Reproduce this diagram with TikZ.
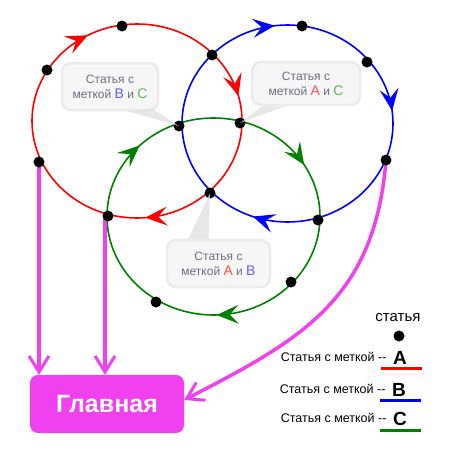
\documentclass[tikz,border=0pt]{standalone}
\usepackage{fontspec}
\setmainfont{Liberation Sans}
\usetikzlibrary{arrows.meta,decorations.markings}
\definecolor{mag}{RGB}{240,64,240}
\definecolor{txtgray}{RGB}{110,110,128}
\definecolor{tagA}{RGB}{255,80,80}
\definecolor{tagB}{RGB}{96,96,255}
\definecolor{tagC}{RGB}{96,184,96}
\definecolor{grn}{RGB}{0,128,0}
\newcommand{\tagl}[2]{\textcolor{#1}{\fontsize{14}{15}\selectfont #2}}

\begin{document}
\begin{tikzpicture}[x=1pt, y=-1pt,
    >={Stealth[length=22pt,width=19pt,inset=9pt]},
    dot/.style={circle, fill=black, inner sep=0pt, minimum size=11pt},
    ring/.style n args={3}{line width=1.6pt, postaction={decorate},
      decoration={markings,
        mark=at position #1 with {\arrow{>}},
        mark=at position #2 with {\arrow{>}},
        mark=at position #3 with {\arrow{>}}}},
    link/.style={draw=mag, line width=3.5pt, -{Straight Barb[length=16pt,width=20pt,line width=3pt]}},
    callout/.style={fill=gray!7, draw=gray!16, line width=2.5pt, rounded corners=9pt,
      align=center, text=txtgray, font=\fontsize{12}{15}\selectfont},
    pointer/.style={fill=gray!25, opacity=0.75},
    keytext/.style={anchor=east, font=\fontsize{12.5}{14}\selectfont},
    keytag/.style={font=\fontsize{19}{20}\selectfont\bfseries}]
  \useasboundingbox (0,0) rectangle (458,455);
  \draw [red, ring={0.237}{0.67}{0.96}] (137,121) ellipse [x radius=105, y radius=97];
  \draw [blue, ring={0.305}{0.73}{0.98}] (287.5,123.5) ellipse [x radius=105.5, y radius=98.5];
  \draw [grn, ring={0.245}{0.625}{0.915}] (213.5,216.5) ellipse [x radius=106.5, y radius=98.5];
  \node (main) [fill=mag, rounded corners=8pt, minimum width=154pt, minimum height=58pt,
    text=white, font=\fontsize{25}{28}\selectfont\bfseries] at (107,404) {Главная};
  \draw [link] (39,162) -- (39,162 |- main.north);
  \draw [link] (105,216) -- (105,216 |- main.north);
  \draw [link] (386,160) .. controls (375,300) and (300,340) .. ([yshift=4pt]main.east);
  \node[dot] (RT) at (122,26) {};
  \node[dot] (RUL) at (47,70) {};
  \node[dot] (RL) at (39,162) {};
  \node[dot] (GL) at (108,216) {};
  \node[dot] (AB1) at (212,55) {};
  \node[dot] (BC) at (179,126) {};
  \node[dot] (AC) at (240,123) {};
  \node[dot] (AB) at (210,193) {};
  \node[dot] (BT) at (302,26) {};
  \node[dot] (BUR) at (367,62) {};
  \node[dot] (BR) at (386,160) {};
  \node[dot] (GR) at (318,220) {};
  \node[dot] (GLR) at (291,282) {};
  \node[dot] (GB) at (156,302) {};
  \node[callout, minimum width=96pt, minimum height=47pt] (BCn) at (110,86.5)
    {Статья с\\меткой \tagl{tagB}{B} и \tagl{tagC}{C}};
  \node[callout, minimum width=108pt, minimum height=43pt] (ACn) at (306,83.5)
    {Статья с\\меткой \tagl{tagA}{A} и \tagl{tagC}{C}};
  \node[callout, minimum width=103pt, minimum height=47pt] (ABn) at (218.5,263.5)
    {Статья с\\меткой \tagl{tagA}{A} и \tagl{tagB}{B}};
  \fill[pointer] ([xshift=18pt]BCn.south) -- (BC.center) -- ([xshift=42pt,yshift=3pt]BCn.south) -- cycle;
  \fill[pointer] ([xshift=-44pt]ACn.south) -- (AC.center) -- ([xshift=-21pt]ACn.south) -- cycle;
  \fill[pointer] ([xshift=-30pt]ABn.north) -- (AB.center) -- ([xshift=-10pt]ABn.north) -- cycle;
  \node (art) [font=\fontsize{15}{17}\selectfont] at (398,318) {статья};
  \node[dot] (key) at (399,336) {};
  \node[keytext] (LA) at (390,357) {Статья с меткой -{}-};
  \node[keytag] (A) at (400,358) {A};
  \node[keytext] (LB) at (389,389) {Статья с меткой -{}-};
  \node[keytag] (B) at (399,390) {B};
  \node[keytext] (LC) at (390,418) {Статья с меткой -{}-};
  \node[keytag] (C) at (400,419) {C};
  \draw[red, line width=3pt] (381,368) -- (422,368);
  \draw[blue, line width=3pt] (380,400) -- (421,400);
  \draw[grn, line width=3pt] (380,430) -- (421,430);
\end{tikzpicture}
\end{document}
